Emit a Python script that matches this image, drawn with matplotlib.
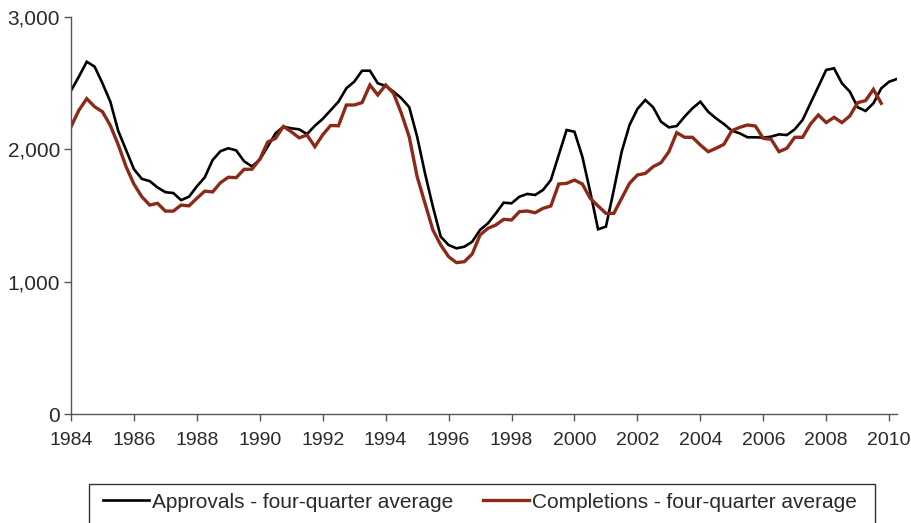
import matplotlib
matplotlib.use("Agg")
import matplotlib.pyplot as plt
from matplotlib.patches import Rectangle
import numpy as np

plt.rcParams['font.family'] = ['Liberation Sans', 'DejaVu Sans']

start_year = 1984
# Quarterly data, 1984 Q1 onwards
approvals = [
    2443, 2549, 2662, 2625, 2499, 2360, 2140, 1995, 1850, 1777,
    1760, 1712, 1676, 1670, 1616, 1642, 1720, 1788, 1919, 1986,
    2008, 1992, 1910, 1871, 1922, 2020, 2121, 2171, 2159, 2151,
    2115, 2178, 2230, 2295, 2360, 2461, 2511, 2594, 2594, 2499,
    2479, 2436, 2386, 2318, 2096, 1819, 1567, 1340, 1277, 1252,
    1264, 1302, 1391, 1441, 1516, 1597, 1592, 1642, 1663, 1655,
    1693, 1768, 1957, 2146, 2133, 1945, 1680, 1396, 1416, 1693,
    1982, 2184, 2305, 2373, 2318, 2209, 2166, 2176, 2247, 2310,
    2360, 2284, 2234, 2191, 2141, 2121, 2091, 2091, 2088, 2096,
    2113, 2108, 2151, 2222, 2348, 2474, 2600, 2612, 2499, 2436,
    2318, 2290, 2348, 2461, 2511, 2532,
]
completions = [
    2171, 2295, 2383, 2322, 2284, 2180, 2035, 1869, 1737, 1642,
    1579, 1592, 1533, 1533, 1579, 1573, 1630, 1684, 1678, 1748,
    1789, 1786, 1849, 1850, 1925, 2055, 2083, 2173, 2133, 2087,
    2108, 2020, 2110, 2180, 2178, 2335, 2335, 2353, 2486, 2411,
    2486, 2423, 2272, 2093, 1794, 1592, 1391, 1277, 1189, 1144,
    1151, 1209, 1353, 1403, 1428, 1471, 1466, 1529, 1534, 1521,
    1554, 1572, 1738, 1743, 1768, 1738, 1630, 1572, 1516, 1516,
    1630, 1743, 1806, 1818, 1869, 1899, 1982, 2126, 2091, 2091,
    2033, 1982, 2008, 2038, 2141, 2166, 2184, 2176, 2083, 2076,
    1982, 2008, 2091, 2091, 2191, 2260, 2202, 2242, 2202, 2252,
    2353, 2368, 2453, 2348,
]
xtick_years = list(range(1984, 2011, 2))
ytick_values = [0, 1000, 2000, 3000]
ytick_labels = ["0", "1,000", "2,000", "3,000"]
labels = ["Approvals - four-quarter average", "Completions - four-quarter average"]

x_app = start_year + np.arange(len(approvals)) / 4.0
x_comp = start_year + np.arange(len(completions)) / 4.0

fig = plt.figure(figsize=(9.12, 5.23), dpi=100)
ax = fig.add_axes([71/912, 1 - 414/523, (897 - 71)/912, (414 - 17)/523])

ax.plot(x_app, approvals, color='black', lw=1.9, label=labels[0], solid_joinstyle='miter')
ax.plot(x_comp, completions, color='#8C2A17', lw=2.4, label=labels[1], solid_joinstyle='miter')

ax.set_xlim(start_year, x_app[-1])
ax.set_ylim(0, 3000)
ax.set_xticks(xtick_years)
ax.set_xticklabels([str(y) for y in xtick_years])
ax.set_yticks(ytick_values)
ax.set_yticklabels(ytick_labels)

for s in ['top', 'right']:
    ax.spines[s].set_visible(False)
for s in ['left', 'bottom']:
    ax.spines[s].set_color('#555555')
    ax.spines[s].set_linewidth(1.0)
ax.tick_params(axis='both', direction='out', length=5, width=1.0, color='#555555',
               labelcolor='#2a2a2a')
ax.tick_params(axis='y', labelsize=15, pad=3)
ax.tick_params(axis='x', labelsize=14, pad=8)

# Legend box (extends below figure edge, as in reference)
fig.patches.append(Rectangle((89/912, -0.05), (875 - 89)/912, 0.05 + (523 - 484)/523,
                             transform=fig.transFigure, fill=False,
                             edgecolor='#333333', lw=1.0))
leg = fig.legend(loc='center', bbox_to_anchor=(480/912, 1 - 502/523), ncol=2,
                 frameon=False, fontsize=15, handlelength=2.2, handletextpad=0.15,
                 columnspacing=1.4, labelcolor='#2a2a2a')

fig.savefig('out.png', dpi=100)
